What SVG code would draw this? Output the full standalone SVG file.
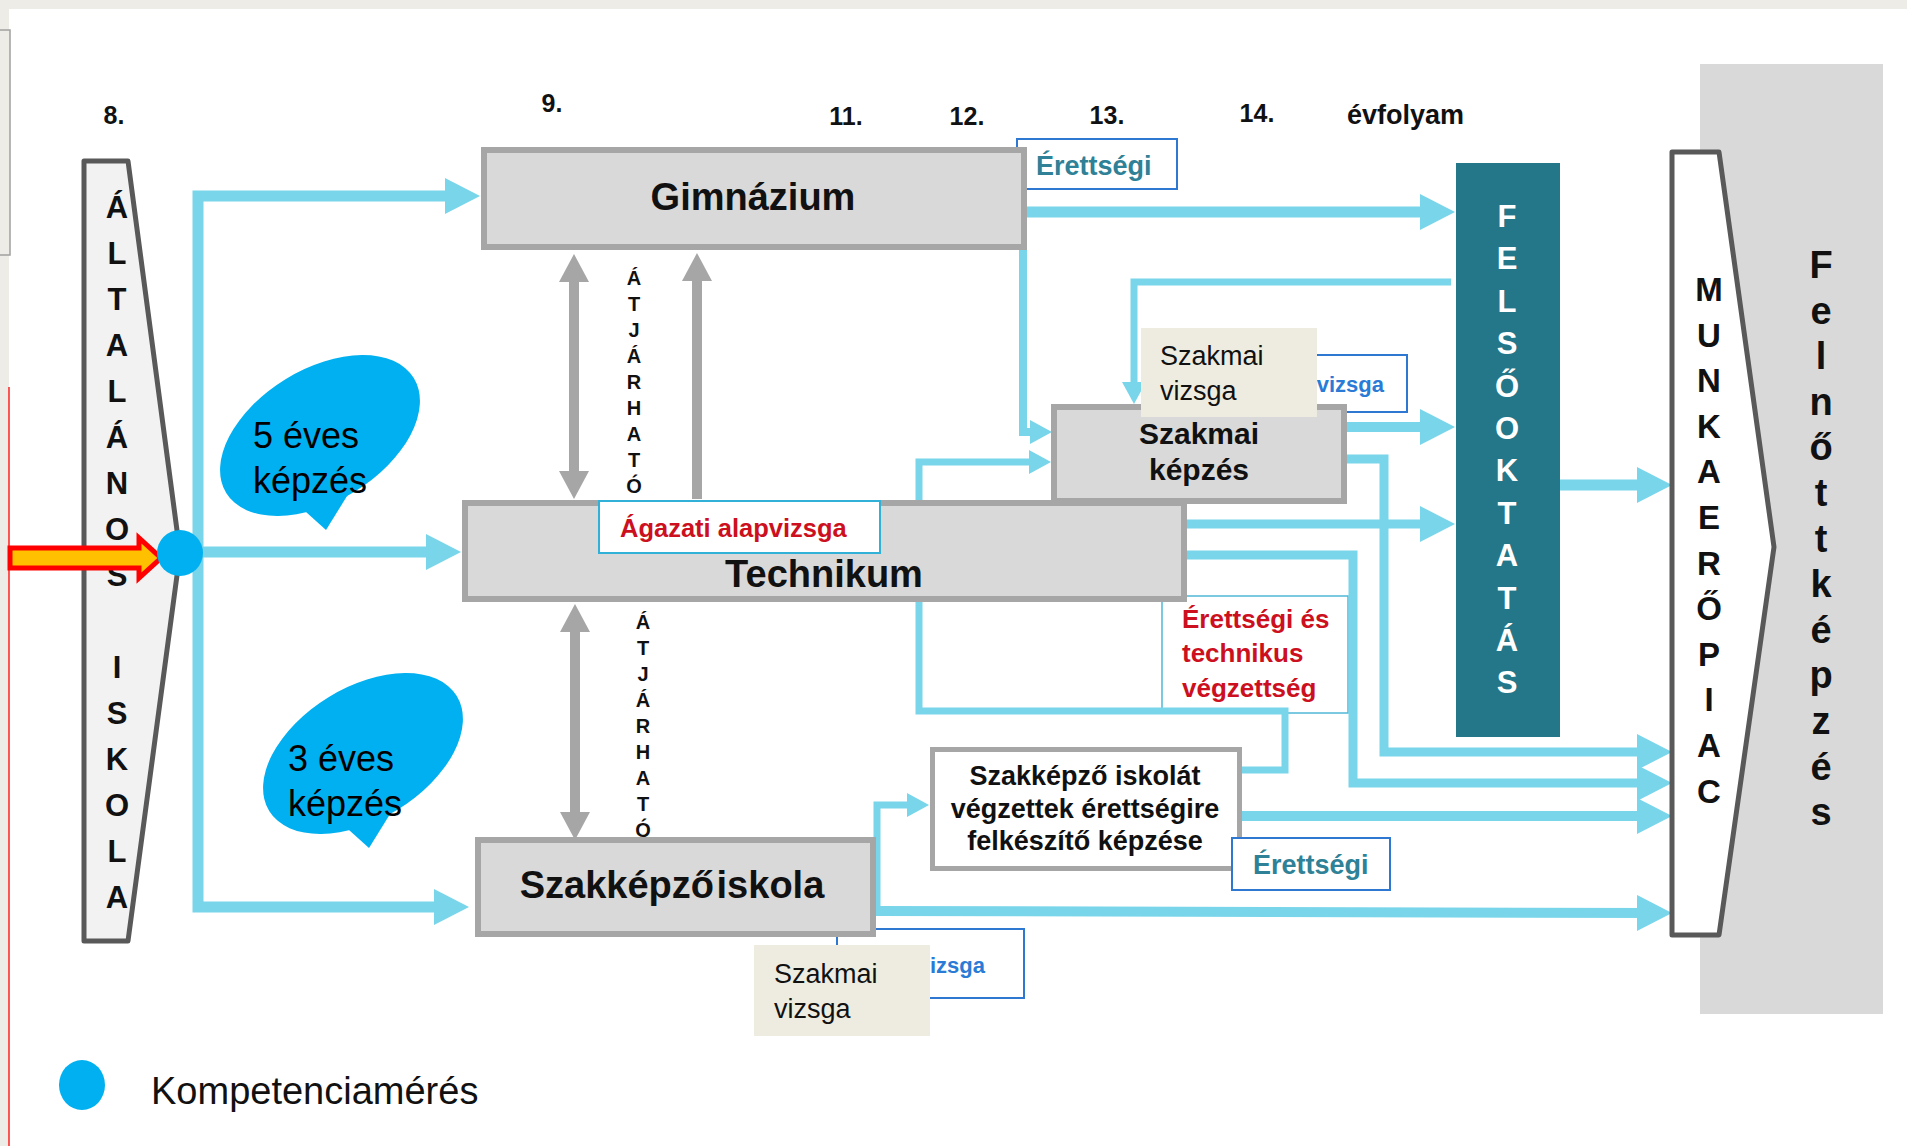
<svg xmlns="http://www.w3.org/2000/svg" width="1907" height="1146" viewBox="0 0 1907 1146">
<defs>
<style>
text{font-family:"Liberation Sans",Arial,sans-serif}
.num{font-size:25px;font-weight:bold;fill:#111;text-anchor:middle}
.cy{fill:none;stroke:#79d5ea;stroke-linejoin:miter}
.box{fill:#d9d9d9;stroke:#a6a6a6;stroke-width:6}
.ttl{font-weight:bold;fill:#111;text-anchor:middle}
.vl{font-size:31px;font-weight:bold;text-anchor:middle;fill:#111}
.tr{font-size:20px;font-weight:bold;text-anchor:middle;fill:#111}
.blu{fill:#00b0f0}
.lab{fill:#fff;stroke:#2e78d2;stroke-width:2}
.er{font-size:27px;font-weight:bold;fill:#2e8196}
.vz{font-size:22px;font-weight:bold;fill:#2a7bd6;text-anchor:end}
.beige{fill:#eeece1}
.sv{font-size:27px;fill:#111}
.red{font-weight:bold;fill:#cc1020}
.ga{fill:none;stroke:#a6a6a6;stroke-width:10}
.pent{stroke:#595959;stroke-width:5;stroke-linejoin:round}
.bub{font-size:36px;fill:#000}
</style>
<marker id="ah" markerUnits="userSpaceOnUse" markerWidth="35" markerHeight="36" refX="20" refY="18" orient="auto"><path d="M0,0L35,18L0,36z" fill="#79d5ea"/></marker>
<marker id="as" markerUnits="userSpaceOnUse" markerWidth="22" markerHeight="24" refX="12" refY="12" orient="auto"><path d="M0,0L22,12L0,24z" fill="#79d5ea"/></marker>
<marker id="gh" markerUnits="userSpaceOnUse" markerWidth="28" markerHeight="30" refX="16" refY="15" orient="auto-start-reverse"><path d="M0,0L28,15L0,30z" fill="#a6a6a6"/></marker>
</defs>

<g id="background">
<rect x="0" y="0" width="1907" height="1146" fill="#ffffff"/>
<rect x="0" y="0" width="1907" height="9" fill="#eeece6"/>
<rect x="0" y="0" width="9" height="1146" fill="#eeece6"/>
<rect x="-1" y="30" width="11" height="225" fill="#eeece6" stroke="#a0a0a0" stroke-width="1.5"/>
<line x1="9" y1="387" x2="9" y2="1146" stroke="#ff2020" stroke-width="1.5"/>
<rect x="1700" y="64" width="183" height="950" fill="#d9d9d9"/>
</g>

<g id="grade-labels">
<text class="num" x="114" y="124">8.</text>
<text class="num" x="552" y="112">9.</text>
<text class="num" x="846" y="125">11.</text>
<text class="num" x="967" y="125">12.</text>
<text class="num" x="1107" y="124">13.</text>
<text class="num" x="1257" y="122">14.</text>
<text x="1347" y="124" font-size="27" font-weight="bold" fill="#111">évfolyam</text>
</g>

<g id="altalanos-iskola">
<polygon class="pent" points="84,161 128,161 180,553 128,941 84,941" fill="#f2f2f2"/>
<text class="vl"><tspan x="117" y="218">Á</tspan><tspan x="117" y="264">L</tspan><tspan x="117" y="310">T</tspan><tspan x="117" y="356">A</tspan><tspan x="117" y="402">L</tspan><tspan x="117" y="448">Á</tspan><tspan x="117" y="494">N</tspan><tspan x="117" y="540">O</tspan><tspan x="117" y="586">S</tspan><tspan x="117" y="678">I</tspan><tspan x="117" y="724">S</tspan><tspan x="117" y="770">K</tspan><tspan x="117" y="816">O</tspan><tspan x="117" y="862">L</tspan><tspan x="117" y="908">A</tspan></text>
</g>

<g id="labels-back">
<rect class="lab" x="1017" y="139" width="160" height="50"/>
<text class="er" x="1036" y="175">Érettségi</text>
<rect class="lab" x="1250" y="355" width="157" height="57"/>
<text class="vz" x="1384" y="392">vizsga</text>
<rect class="lab" x="837" y="929" width="187" height="69"/>
<text class="vz" x="985" y="973">vizsga</text>
<g id="erettsegi-technikus">
<rect x="1162" y="596" width="186" height="117" fill="#fff" stroke="#4fb8d8" stroke-width="1.5"/>
<text class="red" font-size="26"><tspan x="1182" y="628">Érettségi és</tspan><tspan x="1182" y="662">technikus</tspan><tspan x="1182" y="697">végzettség</tspan></text>
</g>
</g>

<g id="connectors">
<path class="cy" stroke-width="11" d="M182,552 H446" marker-end="url(#ah)"/>
<path class="cy" stroke-width="11" d="M198,552 V196 H465" marker-end="url(#ah)"/>
<path class="cy" stroke-width="11" d="M198,552 V907 H454" marker-end="url(#ah)"/>
<path class="cy" stroke-width="11" d="M1025,212 H1440" marker-end="url(#ah)"/>
<path class="cy" stroke-width="8" d="M1023,207 V432 H1042" marker-end="url(#as)"/>
<path class="cy" stroke-width="7" d="M1451,282 H1134 V394" marker-end="url(#as)"/>
<path class="cy" stroke-width="10" d="M1347,427 H1440" marker-end="url(#ah)"/>
<path class="cy" stroke-width="9" d="M1347,459 H1384 V752 H1657" marker-end="url(#ah)"/>
<path class="cy" stroke-width="9" d="M1187,524 H1440" marker-end="url(#ah)"/>
<path class="cy" stroke-width="9" d="M1187,555 H1353 V783 H1657" marker-end="url(#ah)"/>
<path class="cy" stroke-width="10" d="M1241,816 H1657" marker-end="url(#ah)"/>
<path class="cy" stroke-width="10" d="M875,911 L1657,913" marker-end="url(#ah)"/>
<path class="cy" stroke-width="7" d="M877,911 V805 H919" marker-end="url(#as)"/>
<path class="cy" stroke-width="7" d="M1241,770 H1285 V711 H919 V462 H1041" marker-end="url(#as)"/>
<path class="cy" stroke-width="11" d="M1560,485 H1657" marker-end="url(#ah)"/>
<path class="ga" d="M574,266 V487" marker-start="url(#gh)" marker-end="url(#gh)"/>
<path class="ga" d="M697,499 V265" marker-end="url(#gh)"/>
<path class="ga" d="M575,616 V828" marker-start="url(#gh)" marker-end="url(#gh)"/>
<text class="tr"><tspan x="634" y="284.5">Á</tspan><tspan x="634" y="310.5">T</tspan><tspan x="634" y="336.5">J</tspan><tspan x="634" y="362.5">Á</tspan><tspan x="634" y="388.5">R</tspan><tspan x="634" y="414.5">H</tspan><tspan x="634" y="440.5">A</tspan><tspan x="634" y="466.5">T</tspan><tspan x="634" y="492.5">Ó</tspan></text>
<text class="tr"><tspan x="643" y="629">Á</tspan><tspan x="643" y="655">T</tspan><tspan x="643" y="681">J</tspan><tspan x="643" y="707">Á</tspan><tspan x="643" y="733">R</tspan><tspan x="643" y="759">H</tspan><tspan x="643" y="785">A</tspan><tspan x="643" y="811">T</tspan><tspan x="643" y="837">Ó</tspan></text>
</g>

<g id="entry-arrow">
<polygon points="10,548 139,548 139,538 161,558 139,578 139,568 10,568" fill="#ffc000" stroke="#ff0000" stroke-width="5" stroke-linejoin="miter"/>
<circle class="blu" cx="180" cy="553" r="23"/>
</g>

<g id="bubble-5">
<ellipse class="blu" cx="320" cy="435.5" rx="110" ry="66" transform="rotate(-31.5 320 435.5)"/>
<polygon class="blu" points="296,503 326,530 352,488"/>
<text class="bub"><tspan x="253" y="448">5 éves</tspan><tspan x="253" y="493">képzés</tspan></text>
</g>
<g id="bubble-3">
<ellipse class="blu" cx="363" cy="753.5" rx="110" ry="66" transform="rotate(-31.5 363 753.5)"/>
<polygon class="blu" points="339,821 369,848 395,806"/>
<text class="bub"><tspan x="288" y="771">3 éves</tspan><tspan x="288" y="816">képzés</tspan></text>
</g>

<g id="gimnazium">
<rect class="box" x="484" y="150" width="540" height="97"/>
<text class="ttl" x="753" y="210" font-size="38">Gimnázium</text>
</g>

<g id="technikum">
<rect class="box" x="465" y="503" width="719" height="96"/>
<text class="ttl" x="824" y="587" font-size="38">Technikum</text>
<rect x="599" y="501" width="281" height="52" fill="#fff" stroke="#31b0d8" stroke-width="2"/>
<text class="red" x="620" y="537" font-size="25.5">Ágazati alapvizsga</text>
</g>

<g id="szakmai-kepzes">
<rect class="box" x="1054" y="407" width="290" height="94"/>
<text class="ttl" font-size="30"><tspan x="1199" y="444">Szakmai</tspan><tspan x="1199" y="480">képzés</tspan></text>
</g>

<g id="szakkepzo-iskola">
<rect class="box" x="478" y="840" width="395" height="94"/>
<text class="ttl" x="672" y="898" font-size="38" word-spacing="-8">Szakképző iskola</text>
</g>

<g id="szakkepzo-erettsegi">
<rect x="932.5" y="749.5" width="307" height="119" fill="#fff" stroke="#a6a6a6" stroke-width="5"/>
<text class="ttl" font-size="27"><tspan x="1085" y="785">Szakképző iskolát</tspan><tspan x="1085" y="818">végzettek érettségire</tspan><tspan x="1085" y="850">felkészítő képzése</tspan></text>
</g>

<g id="erettsegi-bottom">
<rect class="lab" x="1232" y="838" width="158" height="52"/>
<text class="er" x="1253" y="874">Érettségi</text>
</g>

<g id="szakmai-vizsga-top">
<rect class="beige" x="1141" y="328" width="176" height="89"/>
<text class="sv"><tspan x="1160" y="365">Szakmai</tspan><tspan x="1160" y="400">vizsga</tspan></text>
</g>
<g id="szakmai-vizsga-bottom">
<rect class="beige" x="754" y="945" width="176" height="91"/>
<text class="sv"><tspan x="774" y="983">Szakmai</tspan><tspan x="774" y="1018">vizsga</tspan></text>
</g>

<g id="felsooktatas">
<rect x="1456" y="163" width="104" height="574" fill="#237789"/>
<text font-size="31" font-weight="bold" fill="#fff" text-anchor="middle"><tspan x="1507" y="227">F</tspan><tspan x="1507" y="269.4">E</tspan><tspan x="1507" y="311.8">L</tspan><tspan x="1507" y="354.2">S</tspan><tspan x="1507" y="396.6">Ő</tspan><tspan x="1507" y="439">O</tspan><tspan x="1507" y="481.4">K</tspan><tspan x="1507" y="523.8">T</tspan><tspan x="1507" y="566.2">A</tspan><tspan x="1507" y="608.6">T</tspan><tspan x="1507" y="651">Á</tspan><tspan x="1507" y="693.4">S</tspan></text>
</g>

<g id="munkaeropiac">
<polygon class="pent" points="1672,152 1719,152 1774,547 1719,935 1672,935" fill="#ffffff"/>
<text font-size="33" font-weight="bold" fill="#111" text-anchor="middle"><tspan x="1709" y="301">M</tspan><tspan x="1709" y="346.6">U</tspan><tspan x="1709" y="392.2">N</tspan><tspan x="1709" y="437.8">K</tspan><tspan x="1709" y="483.4">A</tspan><tspan x="1709" y="529">E</tspan><tspan x="1709" y="574.6">R</tspan><tspan x="1709" y="620.2">Ő</tspan><tspan x="1709" y="665.8">P</tspan><tspan x="1709" y="711.4">I</tspan><tspan x="1709" y="757">A</tspan><tspan x="1709" y="802.6">C</tspan></text>
</g>

<g id="felnottkepzes">
<text font-size="38" font-weight="bold" fill="#111" text-anchor="middle"><tspan x="1821" y="278">F</tspan><tspan x="1821" y="323.6">e</tspan><tspan x="1821" y="369.2">l</tspan><tspan x="1821" y="414.8">n</tspan><tspan x="1821" y="460.4">ő</tspan><tspan x="1821" y="506">t</tspan><tspan x="1821" y="551.6">t</tspan><tspan x="1821" y="597.2">k</tspan><tspan x="1821" y="642.8">é</tspan><tspan x="1821" y="688.4">p</tspan><tspan x="1821" y="734">z</tspan><tspan x="1821" y="779.6">é</tspan><tspan x="1821" y="825.2">s</tspan></text>
</g>

<g id="legend">
<ellipse class="blu" cx="82" cy="1085" rx="23" ry="25"/>
<text x="151" y="1104" font-size="38" fill="#111">Kompetenciamérés</text>
</g>
</svg>
